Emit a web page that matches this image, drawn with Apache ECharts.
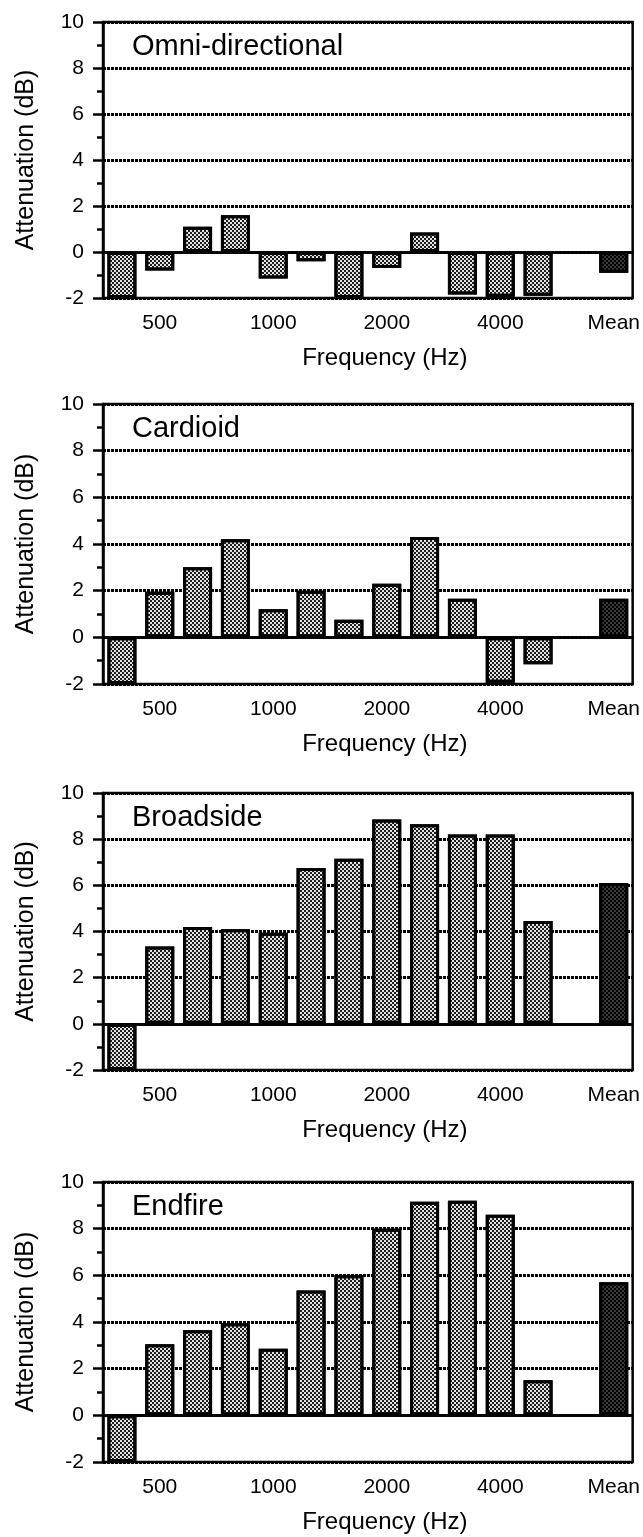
<!DOCTYPE html>
<html>
<head>
<meta charset="utf-8">
<script src="https://cdn.jsdelivr.net/npm/echarts@6/dist/echarts.min.js"></script>
<style>
html, body { margin: 0; padding: 0; background: #fff; }
#chart { width: 643px; height: 1537px; }
</style>
</head>
<body>
<div id="chart"></div>
<script>
// 1/3-octave bands, one empty slot, then the mean
const categories = ['400', '500', '630', '800', '1000', '1250', '1600', '2000', '2500', '3150', '4000', '5000', '', 'Mean']
const tickLabels = ['', '500', '', '', '1000', '', '', '2000', '', '', '4000', '', '', 'Mean']
const yTicks = [-2, 0, 2, 4, 6, 8, 10]

const panelTitles = ['Omni-directional', 'Cardioid', 'Broadside', 'Endfire']
const omni = [-2.0, -0.8, 1.1, 1.6, -1.15, -0.4, -2.0, -0.7, 0.85, -1.85, -1.95, -1.9, null, -0.9]
const cardioid = [-2.0, 1.95, 3.0, 4.2, 1.2, 2.0, 0.75, 2.3, 4.3, 1.65, -1.95, -1.15, null, 1.65]
const broadside = [-2.0, 3.35, 4.2, 4.1, 3.95, 6.75, 7.15, 8.85, 8.65, 8.2, 8.2, 4.45, null, 6.1]
const endfire = [-2.0, 3.05, 3.65, 3.95, 2.85, 5.35, 6.0, 8.0, 9.15, 9.2, 8.6, 1.5, null, 5.7]
const panelData = [omni, cardioid, broadside, endfire]

const gridTops = [22, 404, 793, 1182]
const gridHeights = [276, 280, 277, 280]

const font = "'Liberation Sans', Arial, sans-serif"

const chart = echarts.init(document.getElementById('chart'))

// stippled fill like the scanned bars
const barDecal = {
  symbol: 'rect',
  symbolSize: 1,
  color: '#1e1e1e',
  dashArrayX: [[2, 2], [0, 2, 2, 0]],
  dashArrayY: [2, 0],
  rotation: 0
}
const meanDecal = Object.assign({}, barDecal, { color: '#000' })

var grids = [], xAxes = [], yAxes = [], series = [], titles = []

panelData.forEach((vals, i) => {
  grids.push({
    left: 103,
    right: 10,
    top: gridTops[i],
    height: gridHeights[i],
    show: true,
    borderColor: '#000',
    borderWidth: 2.5,
    backgroundColor: 'transparent'
  })
  titles.push({
    text: panelTitles[i],
    left: 132,
    top: gridTops[i] + 10,
    padding: 0,
    textStyle: { fontFamily: font, fontSize: 29, fontWeight: 'normal', color: '#000' }
  })
  xAxes.push({
    type: 'category',
    gridIndex: i,
    data: categories,
    boundaryGap: true,
    axisLine: { lineStyle: { color: '#000', width: 2.5 } },
    axisTick: { interval: 0, length: 6, lineStyle: { color: '#000', width: 2.5 } },
    axisLabel: {
      interval: 0,
      margin: 15,
      color: '#000',
      fontFamily: font,
      fontSize: 21,
      formatter: (v, idx) => tickLabels[idx]
    },
    name: 'Frequency (Hz)',
    nameLocation: 'middle',
    nameGap: 48,
    nameTextStyle: { fontFamily: font, fontSize: 24, color: '#000', padding: [0, 0, 0, 34] }
  })
  yAxes.push({
    type: 'value',
    gridIndex: i,
    min: yTicks[0],
    max: yTicks[yTicks.length - 1],
    interval: 2,
    axisLine: { show: true, lineStyle: { color: '#000', width: 2.5 } },
    axisTick: { show: true, length: 10, lineStyle: { color: '#000', width: 2.5 } },
    minorTick: { show: true, splitNumber: 2, length: 6, lineStyle: { color: '#000', width: 2.5 } },
    splitLine: { show: true, lineStyle: { color: '#000', width: 3, type: [3, 1] } },
    axisLabel: { color: '#000', fontFamily: font, fontSize: 21, margin: 19 },
    name: 'Attenuation (dB)',
    nameLocation: 'middle',
    nameGap: 64,
    nameTextStyle: { fontFamily: font, fontSize: 25, color: '#000' }
  })
  series.push({
    type: 'bar',
    xAxisIndex: i,
    yAxisIndex: i,
    barWidth: 29,
    data: vals.map((v, k) => categories[k] === 'Mean'
      ? { value: v, itemStyle: { color: '#3a3a3a', decal: meanDecal } }
      : v),
    itemStyle: { color: '#e2e2e2', borderColor: '#000', borderWidth: 3, decal: barDecal },
    markLine: {
      silent: true,
      symbol: ['none', 'none'],
      label: { show: false },
      lineStyle: { color: '#000', width: 2.5, type: 'solid' },
      data: [{ yAxis: 0 }]
    }
  })
})

chart.setOption({
  animation: false,
  backgroundColor: '#fff',
  title: titles,
  grid: grids,
  xAxis: xAxes,
  yAxis: yAxes,
  series: series
})
</script>
</body>
</html>
